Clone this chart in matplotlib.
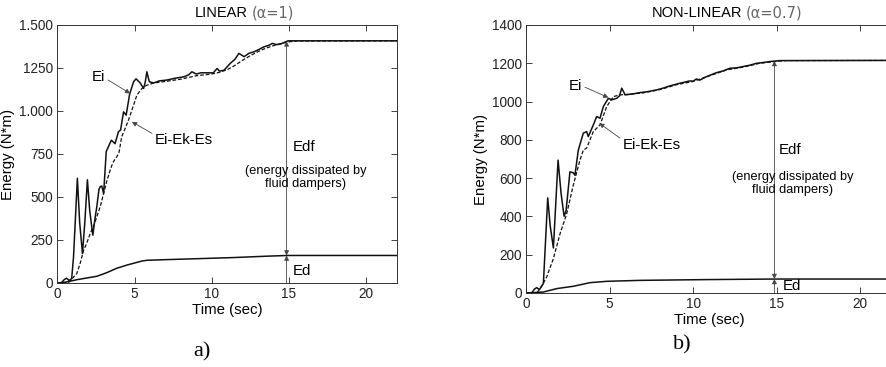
import matplotlib
matplotlib.use("Agg")
import matplotlib.pyplot as plt
from matplotlib.transforms import blended_transform_factory

plt.rcParams['font.family'] = ['Liberation Sans', 'DejaVu Sans']

# ---------------- data ----------------
lin_ei_t = [0, 0.25, 0.45, 0.6, 0.75, 0.93, 1.05, 1.3, 1.45, 1.63, 1.78, 1.95, 2.1, 2.3, 2.45, 2.56,
            2.7, 2.78, 2.88, 3.0, 3.17, 3.5, 3.74, 3.96, 4.1, 4.29, 4.46, 4.68, 4.94, 5.1, 5.37,
            5.59, 5.7, 5.8, 5.96, 6.24, 6.6, 7.1, 7.6, 8.2, 8.5, 8.72, 9.0, 9.3, 10.1, 10.35,
            10.5, 10.8, 11.2, 11.5, 11.76, 12.1, 12.4, 12.73, 13.0, 13.38, 13.7, 13.92, 14.2,
            14.46, 14.94, 15.5, 22]
lin_ei_e = [0, 0, 20, 28, 15, 25, 150, 609, 350, 171, 350, 600, 420, 278, 380, 444,
            545, 560, 564, 520, 765, 830, 810, 879, 890, 995, 976, 1096, 1170, 1187, 1163,
            1131, 1170, 1228, 1170, 1163, 1175, 1180, 1190, 1199, 1210, 1228, 1215, 1222, 1222, 1247,
            1232, 1237, 1277, 1300, 1335, 1316, 1335, 1344, 1355, 1373, 1382, 1393, 1386,
            1389, 1408, 1408, 1408]

lin_diss_t = [0, 0.7, 0.9, 1.26, 1.5, 1.7, 1.9, 2.13, 2.35, 2.56, 2.8, 3.0, 3.2, 3.43, 3.6, 3.86,
              4.0, 4.17, 4.4, 4.61, 4.83, 5.0, 5.15, 5.48, 5.8, 6.24, 7.0, 8.0, 9.0, 10.0, 10.5,
              11.0, 11.5, 12.0, 12.5, 13.0, 13.5, 14.0, 14.5, 15.0, 15.5, 22]
lin_diss_e = [0, 0, 20, 54, 120, 190, 230, 288, 330, 385, 450, 521, 590, 658, 700, 735,
              760, 850, 900, 947, 1005, 1050, 1092, 1131, 1150, 1163, 1172, 1185, 1205, 1215, 1225,
              1240, 1265, 1295, 1322, 1345, 1365, 1380, 1393, 1402, 1407, 1408]

lin_ed_t = [0, 0.6, 1.26, 1.9, 2.56, 3.2, 3.86, 4.5, 5.16, 5.5, 5.8, 7.1, 9.3, 11.45, 13.6, 14.9, 22]
lin_ed_e = [0, 6, 19, 29, 39, 60, 86, 104, 120, 128, 132, 136, 142, 148, 156, 160, 160]

nl_ei_t = [0, 0.34, 0.5, 0.64, 0.8, 1.04, 1.3, 1.45, 1.64, 1.92, 2.1, 2.28, 2.4, 2.63, 2.83, 2.93,
           3.13, 3.43, 3.63, 3.73, 4.03, 4.23, 4.43, 4.63, 4.93, 5.13, 5.43, 5.6, 5.73, 5.85, 5.93,
           6.4, 6.83, 7.3, 7.82, 8.2, 8.62, 9.22, 9.82, 10.0, 10.2, 10.4, 10.8, 11.4, 11.8, 12.2,
           12.6, 13.0, 13.4, 13.8, 14.2, 14.6, 15.2, 22]
nl_ei_e = [0, 0, 20, 28, 18, 49, 497, 350, 235, 694, 520, 401, 430, 633, 628, 615,
           746, 835, 843, 817, 878, 922, 913, 974, 1017, 1009, 1017, 1030, 1070, 1050, 1035,
           1040, 1047, 1052, 1061, 1070, 1082, 1096, 1108, 1106, 1118, 1112, 1130, 1151, 1160, 1174,
           1176, 1183, 1190, 1200, 1204, 1209, 1214, 1215]

nl_diss_t = [0, 0.64, 0.9, 1.24, 1.64, 2.04, 2.44, 2.83, 3.23, 3.43, 3.63, 4.03, 4.43, 4.83, 5.23,
             5.63, 6.0, 7.0, 8.0, 9.0, 10.0, 11.0, 12.0, 13.0, 14.0, 15.0, 15.5, 22]
nl_diss_e = [0, 0, 30, 84, 180, 310, 415, 563, 694, 746, 757, 843, 878, 974, 1026,
             1035, 1037, 1045, 1062, 1088, 1105, 1135, 1165, 1180, 1200, 1210, 1214, 1215]

nl_ed_t = [0, 1.04, 1.84, 2.83, 3.83, 4.83, 6.83, 10.8, 14.9, 22]
nl_ed_e = [0, 5, 23, 35, 54, 61, 66, 70, 73, 73]

lin_yticks = [0, 250, 500, 750, 1000, 1250, 1500]
lin_yticklabels = ['0', '250', '500', '750', '1.000', '1250', '1.500']
nl_yticks = [0, 200, 400, 600, 800, 1000, 1200, 1400]
xticks = [0, 5, 10, 15, 20]

# ---------------- figure ----------------
W, H = 887, 367
fig = plt.figure(figsize=(W / 100, H / 100), dpi=100)

def px_axes(l, r, t, b):
    return fig.add_axes([l / W, 1 - b / H, (r - l) / W, (b - t) / H])

ax1 = px_axes(57.3, 397, 25, 283)
ax2 = px_axes(526, 893.5, 25, 293)

line_col = '#111111'
arrow_kw = dict(arrowstyle='-|>', color='#444444', lw=0.6, mutation_scale=7,
                shrinkA=0, shrinkB=0)
darrow_kw = dict(arrowstyle='<|-|>', color='#444444', lw=0.6, mutation_scale=7,
                 shrinkA=0, shrinkB=0)

def style(ax, yticks, ylabels, ymax):
    ax.set_xlim(0, 22)
    ax.set_ylim(0, ymax)
    ax.set_xticks(xticks)
    ax.set_yticks(yticks)
    if ylabels is not None:
        ax.set_yticklabels(ylabels)
    ax.tick_params(direction='in', length=4, width=0.6, top=True, right=True,
                   labelsize=9.8, pad=3, colors='#222222')
    for s in ax.spines.values():
        s.set_linewidth(0.7)
        s.set_color('#333333')
    ax.set_ylabel('Energy (N*m)', fontsize=10.8, labelpad=3)

def title(ax, main, paren, t_main, t_paren):
    tr = blended_transform_factory(ax.transData, ax.transAxes)
    ax.text(t_main, 1.018, main, transform=tr, ha='right', va='bottom', fontsize=10.5)
    ax.text(t_paren, 1.018, paren, transform=tr, ha='left', va='bottom', fontsize=10.5,
            color='#666666', family='DejaVu Sans')

# ----- left panel -----
style(ax1, lin_yticks, lin_yticklabels, 1500)
ax1.plot(lin_ei_t, lin_ei_e, color=line_col, lw=1.1)
ax1.plot(lin_diss_t, lin_diss_e, color=line_col, lw=0.9, ls=(0, (3, 1.5)))
ax1.plot(lin_ed_t, lin_ed_e, color=line_col, lw=1.1)
ax1.set_xlabel('Time (sec)', fontsize=10.8, labelpad=1)
title(ax1, 'LINEAR', '(α=1)', 12.35, 12.6)

ax1.annotate('', xy=(4.72, 1102), xytext=(3.29, 1180), arrowprops=arrow_kw)
ax1.text(2.66, 1197, 'Ei', ha='center', va='center', fontsize=10.8)
ax1.annotate('', xy=(4.83, 937), xytext=(6.13, 870), arrowprops=arrow_kw)
ax1.text(6.34, 830, 'Ei-Ek-Es', ha='left', va='center', fontsize=10.8)
ax1.annotate('', xy=(14.85, 1405), xytext=(14.85, 160), arrowprops=darrow_kw)
ax1.annotate('', xy=(14.85, 160), xytext=(14.85, 0), arrowprops=arrow_kw)
ax1.text(15.24, 790, 'Edf', ha='left', va='center', fontsize=10.8)
ax1.text(16.08, 615, '(energy dissipated by\nfluid dampers)', ha='center', va='center',
         fontsize=9.2, linespacing=1.1)
ax1.text(15.22, 68, 'Ed', ha='left', va='center', fontsize=10.8)

# ----- right panel -----
style(ax2, nl_yticks, None, 1400)
ax2.spines['right'].set_visible(False)
ax2.plot(nl_ei_t, nl_ei_e, color=line_col, lw=1.1)
ax2.plot(nl_diss_t, nl_diss_e, color=line_col, lw=0.9, ls=(0, (3, 1.5)))
ax2.plot(nl_ed_t, nl_ed_e, color=line_col, lw=1.1)
ax2.set_xlabel('Time (sec)', fontsize=10.8, labelpad=1)
title(ax2, 'NON-LINEAR', '(α=0.7)', 12.93, 13.17)

ax2.annotate('', xy=(4.93, 1021), xytext=(3.53, 1075), arrowprops=arrow_kw)
ax2.text(2.93, 1082, 'Ei', ha='center', va='center', fontsize=10.8)
ax2.annotate('', xy=(4.39, 887), xytext=(5.63, 809), arrowprops=arrow_kw)
ax2.text(5.81, 774, 'Ei-Ek-Es', ha='left', va='center', fontsize=10.8)
ax2.annotate('', xy=(14.87, 1212), xytext=(14.87, 73), arrowprops=darrow_kw)
ax2.annotate('', xy=(14.87, 73), xytext=(14.87, 0), arrowprops=arrow_kw)
ax2.text(15.15, 746, 'Edf', ha='left', va='center', fontsize=10.8)
ax2.text(15.96, 571, '(energy dissipated by\nfluid dampers)', ha='center', va='center',
         fontsize=9.2, linespacing=1.1)
ax2.text(15.37, 34, 'Ed', ha='left', va='center', fontsize=10.8)

# panel letters
fig.text(202 / W, 1 - 352 / H, 'a)', ha='center', va='center', fontsize=16,
         family='Liberation Serif')
fig.text(682 / W, 1 - 345 / H, 'b)', ha='center', va='center', fontsize=16,
         family='Liberation Serif')

fig.savefig('out.png', dpi=100)
